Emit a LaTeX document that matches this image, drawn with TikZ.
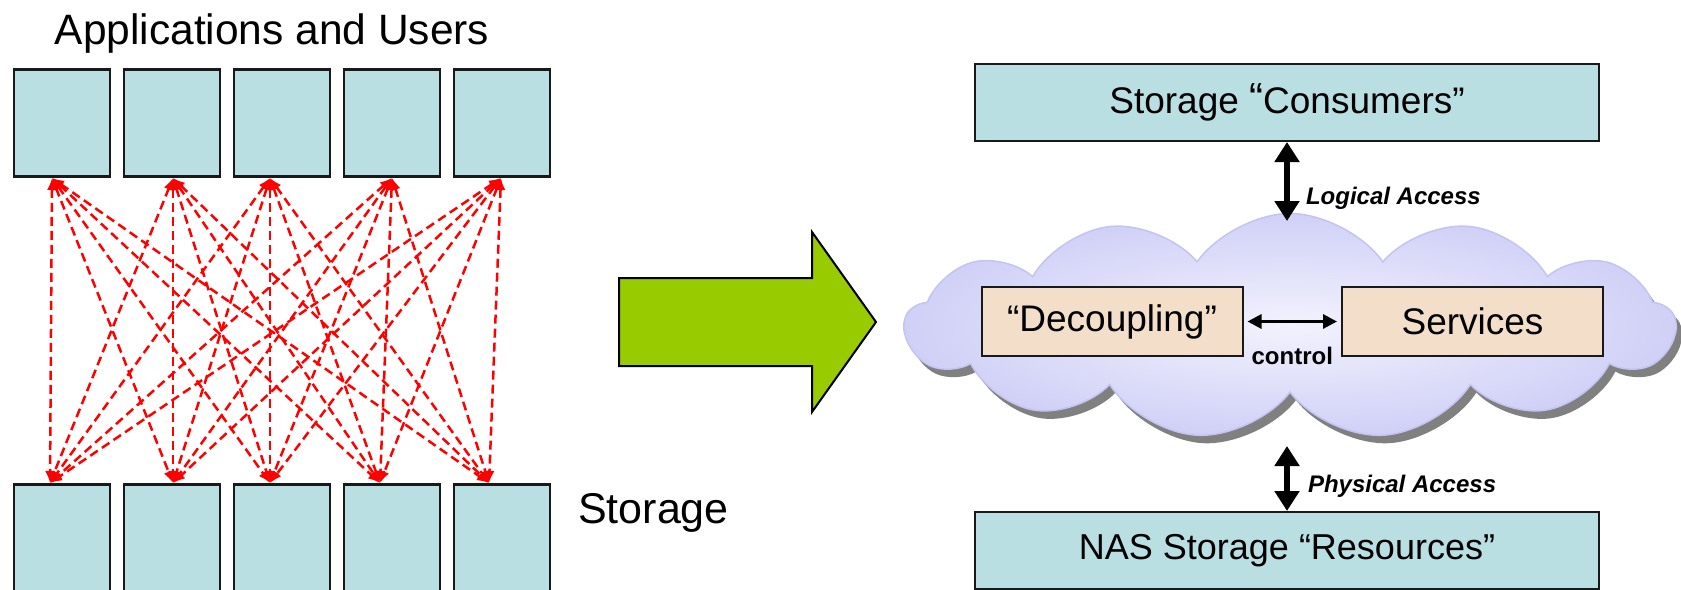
\documentclass[tikz,border=0pt]{standalone}
\usepackage{fontspec}
\setmainfont{Liberation Sans}
\usetikzlibrary{arrows.meta, shapes.symbols, shadows, positioning}
\definecolor{boxblue}{RGB}{185,223,227}
\definecolor{boxpeach}{RGB}{243,222,202}
\definecolor{arrowgreen}{RGB}{153,204,0}
\definecolor{cloudin}{RGB}{242,242,253}
\definecolor{cloudout}{RGB}{208,208,247}
\definecolor{cloudline}{RGB}{196,196,242}

\begin{document}
\begin{tikzpicture}[x=1pt, y=-1pt,
  cell/.style={draw=black!90, line width=2.5pt, fill=boxblue, minimum width=96pt, minimum height=107pt, inner sep=0pt},
  wide/.style={draw=black!90, line width=2pt, fill=boxblue, minimum width=624pt, minimum height=77pt, font=\fontsize{37}{44}\selectfont},
  part/.style={draw=black!90, line width=2pt, fill=boxpeach, minimum width=261pt, minimum height=69pt, font=\fontsize{37}{44}\selectfont},
  link/.style={red, line width=2.5pt, dash pattern=on 9pt off 5pt, {Latex[length=12pt,width=10pt]}-{Latex[length=12pt,width=10pt]}},
  access/.style={line width=6pt, {Triangle[length=20pt,width=24pt]}-{Triangle[length=20pt,width=24pt]}},
  ctl/.style={line width=3pt, {Triangle[length=14pt,width=14pt]}-{Triangle[length=14pt,width=14pt]}, shorten <=4pt, shorten >=4pt},
  tag/.style={font=\fontsize{24}{28}\selectfont\bfseries\itshape, inner sep=0pt}]
\useasboundingbox (0,0) rectangle (1681,589);
\clip (0,0) rectangle (1681,589);
\node[font=\fontsize{42.5}{50}\selectfont, anchor=base, inner sep=0pt] (title) at (272,44) {Applications and Users};
\foreach \i in {1,...,5}{% one column of boxes per step
\node[cell] (app\i) at (-48+110*\i,123) {};
\node[cell] (sto\i) at (-48+110*\i,538) {};}
\node[font=\fontsize{43}{50}\selectfont, anchor=base west, inner sep=0pt] (stotxt) at (578,523) {Storage};
\foreach \i/\a/\b in {1/52/50,2/173/173,3/270/270,4/392/380,5/501/489}{% end points on the box edges
\coordinate (up\i) at (\a,178);
\coordinate (dn\i) at (\b,483);}
\foreach \i in {1,...,5}{% every user to every storage box
\foreach \j in {1,...,5}{\draw[link] (up\i) -- (dn\j);}}
\draw[fill=arrowgreen, line width=2pt, line join=miter] (619,278)--(812,278)--(812,232)--(876,322)--(812,412)--(812,366)--(619,366)--cycle;
\node[wide] (cons) at (1287,102.5) {Storage \raisebox{1pt}{\fontsize{42}{44}\selectfont“}Consumers”};
\node[wide, font=\fontsize{36}{44}\selectfont] (nas) at (1287,550.5) {NAS Storage “Resources”};
\node[cloud, cloud puffs=13, cloud puff arc=110, draw=cloudline, line width=1.5pt, inner color=cloudin, outer color=cloudout,
  minimum width=770pt, minimum height=225pt, drop shadow={shadow xshift=6pt, shadow yshift=-8pt, fill=black!50, opacity=1}] (cloud) at (1290,326) {};
\coordinate (ctop) at (1287,221);
\coordinate (cbot) at (1287,446);
\node[part] (dec) at (1112,321.5) {“Decoupling”};
\node[part] (srv) at (1472.5,321.5) {Services};
\draw[ctl] (dec) -- (srv) node[midway, below=24pt, inner sep=0pt, font=\fontsize{24}{28}\selectfont\bfseries] (ctltxt) {control};
\draw[access] (cons.south) -- (ctop) node[pos=.71, right=16pt, tag] (logtxt) {Logical Access};
\draw[access] (cbot) -- (nas.north) node[pos=.62, right=18pt, tag] (phytxt) {Physical Access};
\end{tikzpicture}
\end{document}
